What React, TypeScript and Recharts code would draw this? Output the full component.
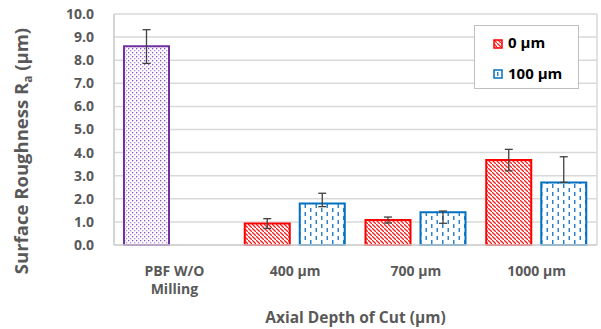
import React from "react"
import { Bar, BarChart, CartesianGrid, ErrorBar, XAxis, YAxis, Cell } from "recharts"

// categories and values
const categories = ["PBF W/O\nMilling", "400 µm", "700 µm", "1000 µm"]
const zeroUm = [8.6, 0.93, 1.08, 3.68]
const zeroUmErr = [[0.74, 0.72], [0.21, 0.21], [0.13, 0.13], [0.47, 0.46]]
const hundredUm = [null, 1.8, 1.42, 2.71]
const hundredUmErr = [[0, 0], [0.14, 0.44], [0.48, 0.05], [0, 1.11]]
const yTicks = [0, 1, 2, 3, 4, 5, 6, 7, 8, 9, 10]

const data = categories.map((name, i) => ({
  name,
  zero: zeroUm[i],
  zeroErr: zeroUmErr[i],
  hundred: hundredUm[i],
  hundredErr: hundredUmErr[i],
}))

const FONT = "'Open Sans', sans-serif"
const GREY = "#595959"

const Patterns = () => (
  <defs>
    <pattern id="redHatch" patternUnits="userSpaceOnUse" width="4" height="4">
      <rect width="4" height="4" fill="#fff" />
      <path d="M-1,-1 l2,2 M0,0 l4,4 M3,3 l2,2" stroke="#ff2020" strokeWidth="1.3" />
    </pattern>
    <pattern id="blueDash" patternUnits="userSpaceOnUse" width="11" height="8">
      <rect width="11" height="8" fill="#fff" />
      <rect x="2" y="0" width="1.5" height="4" fill="#2a85d0" />
      <rect x="7.5" y="4" width="1.5" height="4" fill="#2a85d0" />
    </pattern>
    <pattern id="purpleDots" patternUnits="userSpaceOnUse" width="4" height="4">
      <rect width="4" height="4" fill="#fff" />
      <rect x="0" y="0" width="1.3" height="1.3" fill="#8a4fc0" />
      <rect x="2" y="2" width="1.3" height="1.3" fill="#b58ad8" />
    </pattern>
  </defs>
)

const XTick = (props: any) => {
  const { x, y, payload } = props
  const lines = String(payload.value).split("\n")
  return (
    <text x={x} y={y} textAnchor="middle" fill={GREY} fontSize={14} fontWeight={700} fontFamily={FONT}>
      {lines.map((l, i) => (
        <tspan key={i} x={x} dy={i === 0 ? 23 : 18}>
          {l}
        </tspan>
      ))}
    </text>
  )
}

const LegendBox = () => (
  <div
    style={{
      position: "absolute",
      left: 474,
      top: 25,
      width: 105,
      height: 64,
      border: "1px solid #bfbfbf",
      background: "#fff",
      boxSizing: "border-box",
      fontFamily: FONT,
      fontWeight: 700,
      fontSize: 15,
      color: "#000",
    }}
  >
    <svg width={10} height={10} style={{ position: "absolute", left: 18, top: 13 }}>
      <rect x={1} y={1} width={8} height={8} fill="url(#redHatch)" stroke="#ff0000" strokeWidth={1.5} />
    </svg>
    <span style={{ position: "absolute", left: 33, top: 6, lineHeight: "20px" }}>0 µm</span>
    <svg width={10} height={10} style={{ position: "absolute", left: 18, top: 43 }}>
      <rect x={1} y={1} width={8} height={8} fill="#fff" stroke="#0070c0" strokeWidth={1.5} />
      <rect x={4} y={3} width={1.5} height={4} fill="#2a85d0" />
    </svg>
    <span style={{ position: "absolute", left: 33, top: 37, lineHeight: "20px" }}>100 µm</span>
  </div>
)

export default function App() {
  return (
    <div style={{ position: "absolute", left: 0, top: 0, width: 601, height: 329, background: "#fff" }}>
      <BarChart
        width={601}
        height={329}
        data={data}
        margin={{ top: 14, right: 4, left: 20, bottom: 4 }}
        barGap={10}
        barCategoryGap={10}
      >
        <Patterns />
        <CartesianGrid stroke="#d9d9d9" strokeWidth={1.5} verticalPoints={[114, 597]} />
        <XAxis
          dataKey="name"
          tick={<XTick />}
          tickLine={false}
          axisLine={{ stroke: "#d0d0d0", strokeWidth: 1.5 }}
          interval={0}
          height={80}
          label={{
            value: "Axial Depth of Cut (µm)",
            position: "insideBottom",
            offset: 2,
            fill: GREY,
            fontSize: 15.5,
            fontWeight: 700,
            fontFamily: FONT,
          }}
        />
        <YAxis
          domain={[0, 10]}
          ticks={yTicks}
          interval={0}
          tickFormatter={(v: number) => v.toFixed(1)}
          tick={{ fill: GREY, fontSize: 14, fontWeight: 700, fontFamily: FONT }}
          tickLine={false}
          tickMargin={14}
          axisLine={{ stroke: "#d0d0d0", strokeWidth: 1.5 }}
          width={94}
          label={{
            content: () => (
              <text
                x={28}
                y={151}
                transform="rotate(-90 28 151)"
                textAnchor="middle"
                fill={GREY}
                fontSize={18.5}
                fontWeight={700}
                fontFamily={FONT}
              >
                Surface Roughness R
                <tspan fontSize={12} dy={4}>a</tspan>
                <tspan dy={-4}> (µm)</tspan>
              </text>
            ),
          }}
        />
        <Bar dataKey="zero" name="0 µm" barSize={45} fill="url(#redHatch)" stroke="#ff0000" strokeWidth={2} isAnimationActive={false}>
          {data.map((d, i) => (
            <Cell
              key={i}
              fill={i === 0 ? "url(#purpleDots)" : "url(#redHatch)"}
              stroke={i === 0 ? "#7030a0" : "#ff0000"}
            />
          ))}
          <ErrorBar dataKey="zeroErr" width={4} stroke="#404040" strokeWidth={1.3} />
        </Bar>
        <Bar dataKey="hundred" name="100 µm" barSize={45} fill="url(#blueDash)" stroke="#0070c0" strokeWidth={2} isAnimationActive={false}>
          <ErrorBar dataKey="hundredErr" width={4} stroke="#404040" strokeWidth={1.3} />
        </Bar>
      </BarChart>
      <LegendBox />
    </div>
  )
}
